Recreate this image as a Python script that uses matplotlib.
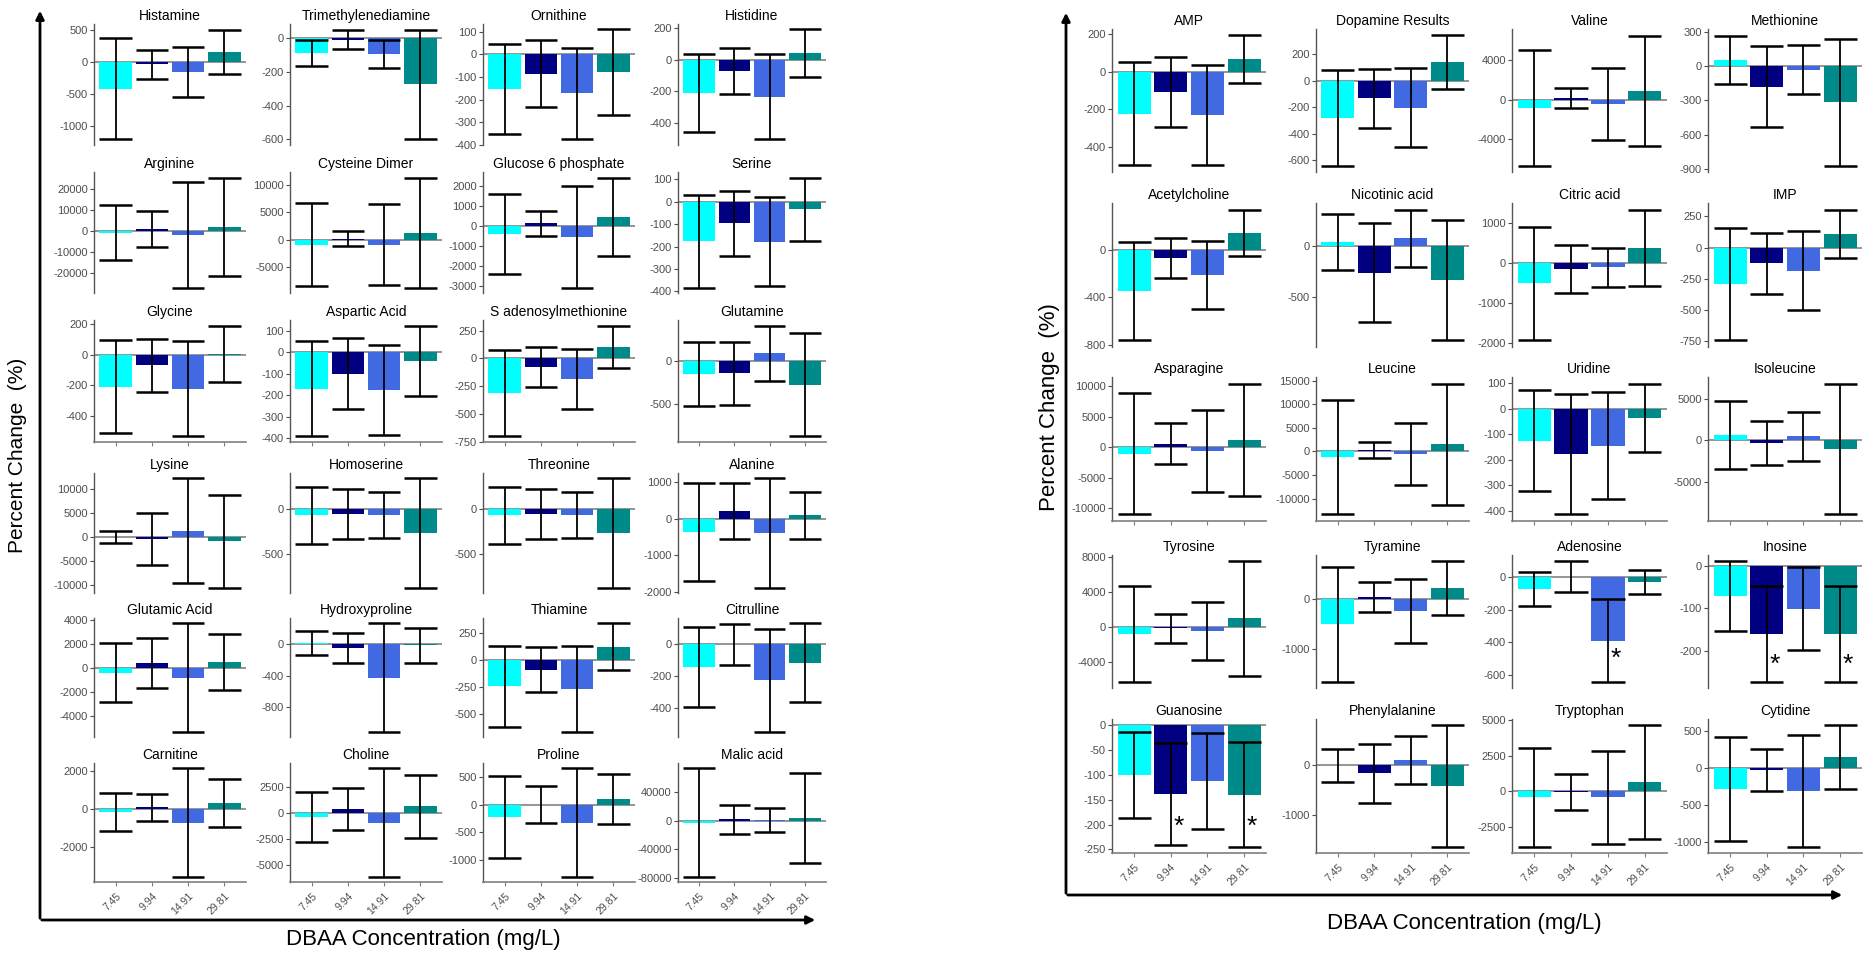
import matplotlib
matplotlib.use("Agg")
import matplotlib.pyplot as plt
from matplotlib.patches import FancyArrowPatch

plt.rcParams["font.family"] = ["Liberation Sans", "DejaVu Sans"]
plt.rcParams["axes.unicode_minus"] = False

concentrations = ["7.45", "9.94", "14.91", "29.81"]
bar_colors = ["#00FFFF", "#000080", "#4169E1", "#008B8B"]

# left block, row by row
left_names = ["Histamine", "Trimethylenediamine", "Ornithine", "Histidine",
              "Arginine", "Cysteine Dimer", "Glucose 6 phosphate", "Serine",
              "Glycine", "Aspartic Acid", "S adenosylmethionine", "Glutamine",
              "Lysine", "Homoserine", "Threonine", "Alanine",
              "Glutamic Acid", "Hydroxyproline", "Thiamine", "Citrulline",
              "Carnitine", "Choline", "Proline", "Malic acid"]
left_means = [[-425, -36, -158, 160], [-88, -10, -97, -275], [-152, -86, -172, -79], [-212, -70, -234, 43],
              [-800, 900, -1900, 2000], [-870, 200, -860, 1330], [-410, 130, -545, 470], [-176, -97, -178, -33],
              [-208, -70, -221, 6], [-171, -100, -177, -41], [-316, -76, -188, 107], [-144, -140, 95, -274],
              [100, -420, 1350, -820], [-74, -58, -68, -268], [-74, -58, -68, -268], [-355, 212, -385, 100],
              [-400, 420, -800, 520], [22, -42, -420, -10], [-242, -88, -266, 124], [-143, 0, -228, -118],
              [-130, 100, -695, 335], [-370, 410, -910, 660], [-220, 0, -320, 105], [-2400, 2300, 600, 4100]]
left_errs = [[790, 228, 388, 345], [78, 56, 83, 325], [199, 147, 201, 188], [249, 147, 272, 150],
             [13250, 8400, 25100, 23500], [7590, 1340, 7380, 10000], [2005, 643, 2525, 1955], [207, 144, 197, 141],
             [303, 170, 311, 184], [222, 167, 210, 165], [388, 183, 270, 190], [378, 370, 330, 612],
             [1230, 5400, 10900, 9650], [315, 272, 250, 601], [315, 272, 250, 601], [1352, 768, 1495, 640],
             [2472, 2070, 4540, 2365], [150, 190, 688, 225], [378, 210, 400, 218], [252, 129, 322, 248],
             [995, 700, 2856, 1266], [2445, 2011, 5260, 3089], [735, 333, 981, 456], [75430, 20300, 16840, 62300]]
left_ticks = [[-1000, -500, 0, 500], [-600, -400, -200, 0], [-400, -300, -200, -100, 0, 100], [-400, -200, 0, 200],
              [-20000, -10000, 0, 10000, 20000], [-5000, 0, 5000, 10000], [-3000, -2000, -1000, 0, 1000, 2000],
              [-400, -300, -200, -100, 0, 100],
              [-400, -200, 0, 200], [-400, -300, -200, -100, 0, 100], [-750, -500, -250, 0, 250], [-500, 0],
              [-10000, -5000, 0, 5000, 10000], [-500, 0], [-500, 0], [-2000, -1000, 0, 1000],
              [-4000, -2000, 0, 2000, 4000], [-800, -400, 0], [-500, -250, 0, 250], [-400, -200, 0],
              [-2000, 0, 2000], [-5000, -2500, 0, 2500], [-1000, -500, 0, 500], [-80000, -40000, 0, 40000]]

# right block, row by row
right_names = ["AMP", "Dopamine Results", "Valine", "Methionine",
               "Acetylcholine", "Nicotinic acid", "Citric acid", "IMP",
               "Asparagine", "Leucine", "Uridine", "Isoleucine",
               "Tyrosine", "Tyramine", "Adenosine", "Inosine",
               "Guanosine", "Phenylalanine", "Tryptophan", "Cytidine"]
right_means = [[-222, -107, -230, 68], [-279, -134, -204, 140], [-850, 120, -480, 905], [55, -180, -31, -315],
               [-349, -72, -215, 141], [42, -260, 78, -334], [-520, -160, -115, 367], [-295, -126, -185, 109],
               [-1100, 530, -650, 1230], [-1180, 300, -493, 1530], [-125, -178, -146, -36], [676, -304, 490, -1050],
               [-765, -120, -405, 1010], [-508, 42, -235, 220], [-71, 5, -389, -28], [-71, -160, -101, -160],
               [-100, -139, -112, -140], [0, -165, 108, -420], [-430, -45, -408, 650], [-286, -24, -310, 150]]
right_errs = [[275, 184, 268, 125], [361, 221, 296, 200], [5776, 1012, 3618, 5527], [211, 352, 218, 554],
              [415, 170, 288, 197], [276, 489, 285, 596], [1421, 600, 485, 957], [451, 244, 316, 196],
              [9945, 3352, 6697, 9205], [12148, 1655, 6620, 12852], [198, 237, 210, 135], [4098, 2647, 2941, 7862],
              [5453, 1660, 3302, 6510], [1157, 297, 644, 540], [105, 96, 254, 73], [82, 112, 97, 112],
              [87, 103, 96, 105], [331, 595, 486, 1233], [3489, 1277, 3276, 4021], [709, 289, 761, 436]]
right_ticks = [[-400, -200, 0, 200], [-600, -400, -200, 0, 200], [-4000, 0, 4000], [-900, -600, -300, 0, 300],
               [-800, -400, 0], [-500, 0], [-2000, -1000, 0, 1000], [-750, -500, -250, 0, 250],
               [-10000, -5000, 0, 5000, 10000], [-10000, -5000, 0, 5000, 10000, 15000],
               [-400, -300, -200, -100, 0, 100], [-5000, 0, 5000],
               [-4000, 0, 4000, 8000], [-1000, 0], [-600, -400, -200, 0], [-200, -100, 0],
               [-250, -200, -150, -100, -50, 0], [-1000, 0], [-2500, 0, 2500, 5000], [-1000, -500, 0, 500]]

# significance stars
star_panels = ["Adenosine", "Inosine", "Inosine", "Guanosine", "Guanosine"]
star_bars = [2, 1, 3, 1, 3]
star_y = [-500, -231, -231, -205, -205]

W, H = 1866, 956
fig = plt.figure(figsize=(W / 100, H / 100), dpi=100)
grey = "#4d4d4d"


def px_axes(x0, x1, top, bottom):
    return fig.add_axes([x0 / W, 1 - bottom / H, (x1 - x0) / W, (bottom - top) / H])


def draw_panel(ax, name, means, errs, ticks, xaxis):
    xs = list(range(len(concentrations)))
    ax.axhline(0, color="#8c8c8c", lw=1.3, zorder=1)
    ax.bar(xs, means, width=0.9, color=bar_colors, edgecolor="none", zorder=2)
    lo = [m - e for m, e in zip(means, errs)]
    hi = [m + e for m, e in zip(means, errs)]
    ax.vlines(xs, lo, hi, color="black", lw=1.3, zorder=3)
    ax.hlines(lo + hi, [x - 0.45 for x in xs] * 2, [x + 0.45 for x in xs] * 2,
              color="black", lw=1.8, zorder=3)
    ymin, ymax = min(lo + [0]), max(hi + [0])
    pad = (ymax - ymin) * 0.05
    ax.set_ylim(ymin - pad, ymax + pad)
    ax.set_xlim(-0.6, 3.6)
    ax.set_yticks(ticks)
    ax.set_yticklabels([str(t) for t in ticks])
    ax.tick_params(axis="y", labelsize=8, colors=grey, length=3, width=0.8, pad=1.5)
    ax.set_title(name, fontsize=10, pad=3)
    for s in ["top", "right"]:
        ax.spines[s].set_visible(False)
    ax.spines["left"].set_color("#555555")
    ax.spines["left"].set_linewidth(1.0)
    ax.set_xticks(xs)
    if xaxis == "none":
        ax.spines["bottom"].set_visible(False)
        ax.tick_params(axis="x", length=0, labelbottom=False)
    else:
        ax.spines["bottom"].set_color("#7f7f7f")
        ax.spines["bottom"].set_linewidth(1.2)
        ax.tick_params(axis="x", length=3, colors="#7f7f7f", width=0.8)
        if xaxis == "labels":
            ax.set_xticklabels(concentrations, rotation=45, ha="right", rotation_mode="anchor",
                               fontsize=7.5, color=grey)
        else:
            ax.tick_params(axis="x", labelbottom=False)
    for i in range(len(star_panels)):
        if star_panels[i] == name:
            ax.text(star_bars[i] + 0.22, star_y[i], "*", fontsize=19, ha="center", va="center")


# left block layout
left_cols = [(94, 246), (290, 442), (483, 635), (678, 826)]
left_rows = [(24, 145), (172, 293), (320, 442), (473, 593), (618, 737), (763, 882)]
left_xaxis = ["none", "none", "ticks", "none", "none", "labels"]
for k, name in enumerate(left_names):
    r, c = divmod(k, 4)
    ax = px_axes(left_cols[c][0], left_cols[c][1], left_rows[r][0], left_rows[r][1])
    draw_panel(ax, name, left_means[k], left_errs[k], left_ticks[k], left_xaxis[r])

# right block layout
right_cols = [(1112, 1266), (1316, 1469), (1512, 1667), (1708, 1862)]
right_rows = [(29, 172), (203, 347), (377, 521), (555, 688), (719, 853)]
right_xaxis = ["none", "none", "ticks", "none", "labels"]
for k, name in enumerate(right_names):
    r, c = divmod(k, 4)
    ax = px_axes(right_cols[c][0], right_cols[c][1], right_rows[r][0], right_rows[r][1])
    draw_panel(ax, name, right_means[k], right_errs[k], right_ticks[k], right_xaxis[r])


def arrow(x0, y0, x1, y1):
    fig.add_artist(FancyArrowPatch((x0 / W, 1 - y0 / H), (x1 / W, 1 - y1 / H),
                                   transform=fig.transFigure, arrowstyle="-|>",
                                   mutation_scale=12, lw=2, color="black"))


arrow(40, 921, 40, 8)
arrow(39, 920, 818, 920)
arrow(1066, 896, 1066, 10)
arrow(1065, 895, 1845, 895)

fig.text(18 / W, 1 - 455 / H, "Percent Change  (%)", rotation=90, ha="center", va="center", fontsize=15)
fig.text(1050 / W, 1 - 407 / H, "Percent Change  (%)", rotation=90, ha="center", va="center", fontsize=16)
fig.text(423 / W, 1 - 940 / H, "DBAA Concentration (mg/L)", ha="center", va="center", fontsize=16)
fig.text(1464 / W, 1 - 924 / H, "DBAA Concentration (mg/L)", ha="center", va="center", fontsize=16)

fig.savefig("out.png", dpi=100)
